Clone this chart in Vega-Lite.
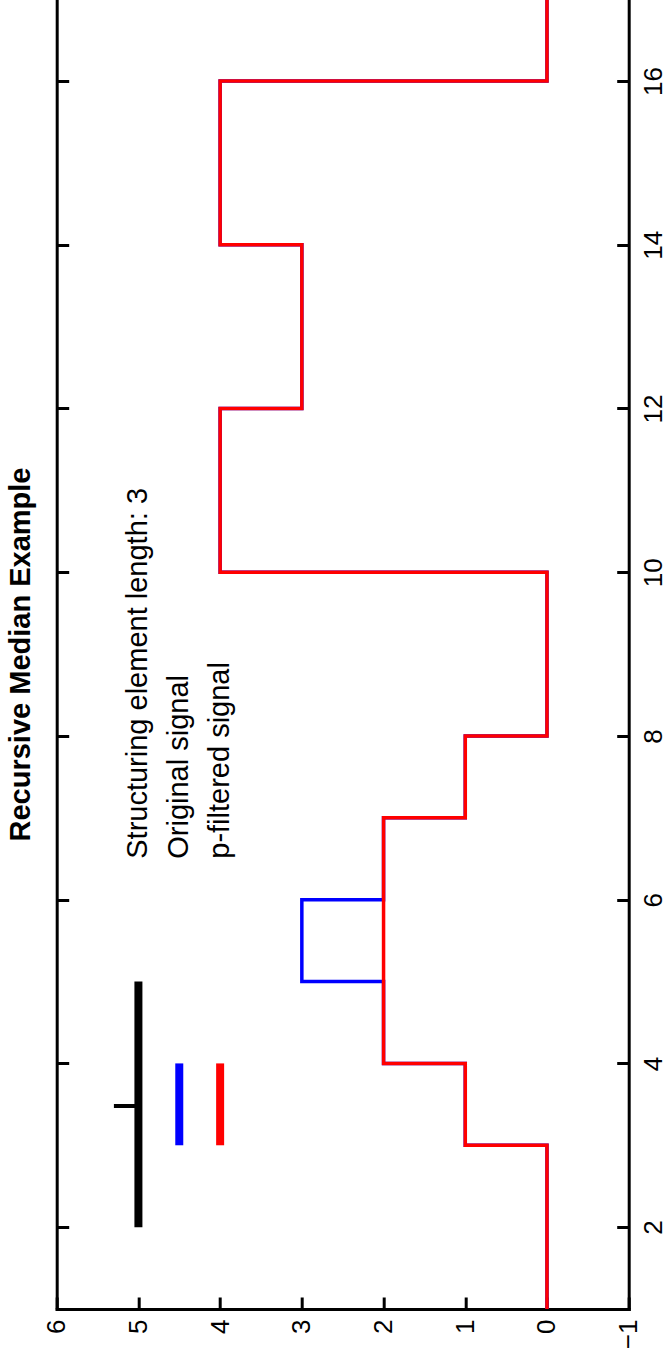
{
  "$schema": "https://vega.github.io/schema/vega-lite/v6.json",
  "width": 572,
  "height": 1309,
  "autosize": "none",
  "padding": {"left": 56.7, "top": 0, "right": 38.3, "bottom": 60},
  "background": "white",
  "title": {
    "text": "Recursive Median Example",
    "orient": "left",
    "anchor": "middle",
    "font": "Liberation Sans",
    "fontSize": 29,
    "fontWeight": "bold",
    "color": "black",
    "offset": 8
  },
  "config": {
    "view": {"stroke": null},
    "axis": {
      "grid": false,
      "domainColor": "black",
      "domainWidth": 3,
      "domainCap": "square",
      "tickColor": "black",
      "tickWidth": 3,
      "tickSize": -12,
      "labelFont": "Liberation Sans",
      "labelFontSize": 26,
      "labelColor": "black",
      "labelAngle": 270,
      "labelFlush": false,
      "labelOverlap": false
    }
  },
  "datasets": {
    "signals": [
      {"series": "original", "t": 1, "v": 0},
      {"series": "original", "t": 2, "v": 0},
      {"series": "original", "t": 3, "v": 1},
      {"series": "original", "t": 4, "v": 2},
      {"series": "original", "t": 5, "v": 3},
      {"series": "original", "t": 6, "v": 2},
      {"series": "original", "t": 7, "v": 1},
      {"series": "original", "t": 8, "v": 0},
      {"series": "original", "t": 9, "v": 0},
      {"series": "original", "t": 10, "v": 4},
      {"series": "original", "t": 11, "v": 4},
      {"series": "original", "t": 12, "v": 3},
      {"series": "original", "t": 13, "v": 3},
      {"series": "original", "t": 14, "v": 4},
      {"series": "original", "t": 15, "v": 4},
      {"series": "original", "t": 16, "v": 0},
      {"series": "original", "t": 17, "v": 0},
      {"series": "filtered", "t": 1, "v": 0},
      {"series": "filtered", "t": 2, "v": 0},
      {"series": "filtered", "t": 3, "v": 1},
      {"series": "filtered", "t": 4, "v": 2},
      {"series": "filtered", "t": 5, "v": 2},
      {"series": "filtered", "t": 6, "v": 2},
      {"series": "filtered", "t": 7, "v": 1},
      {"series": "filtered", "t": 8, "v": 0},
      {"series": "filtered", "t": 9, "v": 0},
      {"series": "filtered", "t": 10, "v": 4},
      {"series": "filtered", "t": 11, "v": 4},
      {"series": "filtered", "t": 12, "v": 3},
      {"series": "filtered", "t": 13, "v": 3},
      {"series": "filtered", "t": 14, "v": 4},
      {"series": "filtered", "t": 15, "v": 4},
      {"series": "filtered", "t": 16, "v": 0},
      {"series": "filtered", "t": 17, "v": 0}
    ],
    "legendLines": [
      {"item": "structuring", "v": 5, "t": 2, "t2": 5},
      {"item": "original", "v": 4.5, "t": 3, "t2": 4},
      {"item": "filtered", "v": 4, "t": 3, "t2": 4}
    ],
    "legendTick": [
      {"item": "center", "v": 5, "v2": 5.3, "t": 3.48}
    ],
    "legendText": [
      {"label": "Structuring element length: 3", "v": 5, "t": 6.5},
      {"label": "Original signal", "v": 4.5, "t": 6.5},
      {"label": "p-filtered signal", "v": 4, "t": 6.5}
    ]
  },
  "layer": [
    {
      "data": {"name": "signals"},
      "transform": [{"filter": "datum.series === 'original'"}],
      "mark": {"type": "line", "interpolate": "step-before", "color": "#0000ff", "strokeWidth": 3.5, "clip": true},
      "encoding": {
        "x": {
          "field": "v", "type": "quantitative", "title": null,
          "scale": {"domain": [-1, 6], "reverse": true, "nice": false, "zero": false},
          "axis": {"orient": "bottom", "values": [-1, 0, 1, 2, 3, 4, 5, 6], "format": "d", "labelAlign": "right", "labelBaseline": "middle", "labelPadding": 22}
        },
        "y": {
          "field": "t", "type": "quantitative", "title": null,
          "scale": {"domain": [1, 16.99], "nice": false, "zero": false},
          "axis": {"orient": "left", "values": [2, 4, 6, 8, 10, 12, 14, 16], "labels": false}
        },
        "order": {"field": "t", "type": "quantitative"}
      }
    },
    {
      "data": {"name": "signals"},
      "transform": [{"filter": "datum.series === 'filtered'"}],
      "mark": {"type": "line", "interpolate": "step-before", "color": "#ff0000", "strokeWidth": 3.5, "clip": true},
      "encoding": {
        "x": {"field": "v", "type": "quantitative", "title": null},
        "y": {
          "field": "t", "type": "quantitative", "title": null,
          "axis": {"orient": "right", "values": [2, 4, 6, 8, 10, 12, 14, 16], "format": "d", "labelAlign": "center", "labelBaseline": "top", "labelPadding": 24}
        },
        "order": {"field": "t", "type": "quantitative"}
      }
    },
    {
      "data": {"name": "legendLines"},
      "mark": {"type": "rule", "strokeWidth": 8},
      "encoding": {
        "x": {"field": "v", "type": "quantitative", "title": null},
        "y": {"field": "t", "type": "quantitative", "title": null, "axis": null},
        "y2": {"field": "t2"},
        "color": {
          "field": "item", "type": "nominal", "legend": null,
          "scale": {"domain": ["structuring", "original", "filtered"], "range": ["#000000", "#0000ff", "#ff0000"]}
        }
      }
    },
    {
      "data": {"name": "legendTick"},
      "mark": {"type": "rule", "strokeWidth": 4, "color": "#000000"},
      "encoding": {
        "x": {"field": "v", "type": "quantitative", "title": null},
        "x2": {"field": "v2"},
        "y": {"field": "t", "type": "quantitative", "title": null, "axis": null}
      }
    },
    {
      "data": {"name": "legendText"},
      "mark": {"type": "text", "angle": 270, "align": "left", "baseline": "middle", "font": "Liberation Sans", "fontSize": 29, "color": "#000000"},
      "encoding": {
        "x": {"field": "v", "type": "quantitative", "title": null},
        "y": {"field": "t", "type": "quantitative", "title": null, "axis": null},
        "text": {"field": "label"}
      }
    }
  ],
  "resolve": {"axis": {"y": "independent"}}
}
